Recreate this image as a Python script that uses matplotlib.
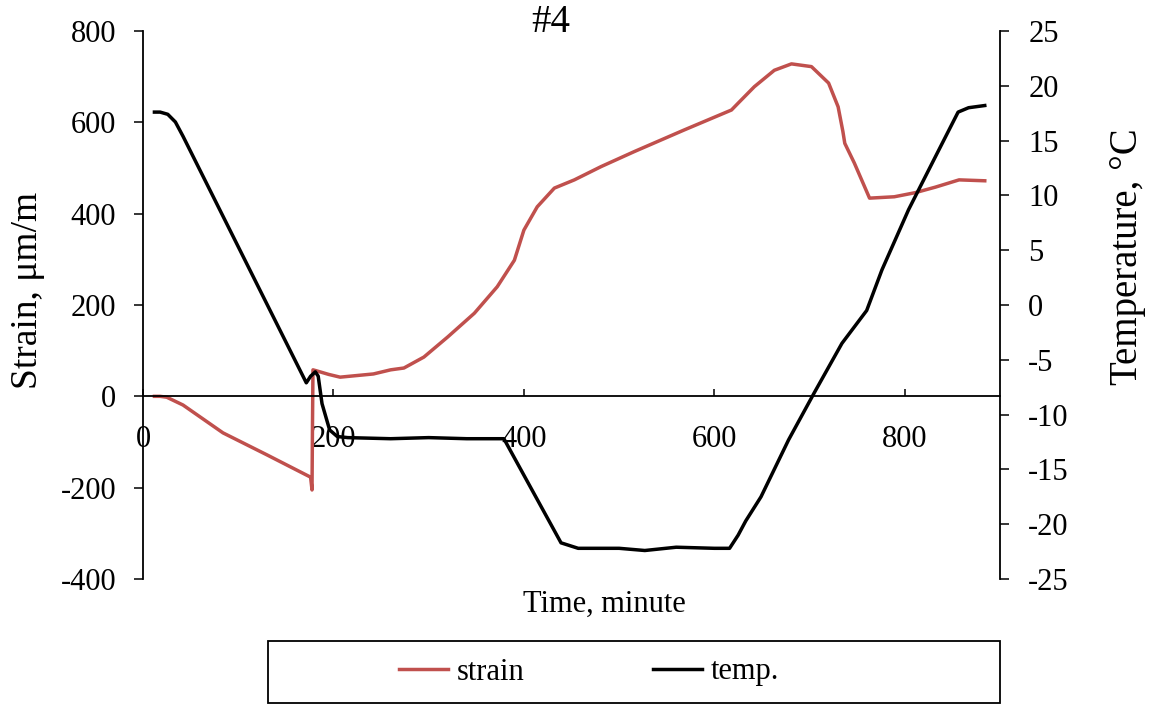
import matplotlib
matplotlib.use("Agg")
import matplotlib.pyplot as plt
from matplotlib.patches import Rectangle

plt.rcParams['font.family'] = ['Liberation Serif', 'DejaVu Serif']
plt.rcParams['font.size'] = 22
plt.rcParams['axes.unicode_minus'] = False

# Strain record (time in minutes, strain in μm/m)
strain_time = [12, 18, 25, 42, 84, 130, 176, 177.5, 178, 178.5, 182, 195, 207, 242, 260,
               274, 295, 320, 348, 372, 390, 400, 414, 432, 453, 481, 516, 568, 618,
               625, 642, 663, 681, 702, 720, 730, 735, 737, 747, 763, 789, 811, 832,
               857, 884]
strain_value = [0, 0, -2, -19, -80, -128, -177, -205, -60, 58, 56, 48, 42, 49, 58,
                62, 86, 130, 182, 240, 298, 364, 415, 456, 474, 503, 536, 583, 627,
                642, 678, 714, 728, 722, 686, 634, 580, 554, 511, 434, 437, 446, 458,
                474, 472]

# Temperature record (time in minutes, temperature in °C)
temp_time = [12, 18, 26, 34, 42, 171.5, 176, 181, 184, 188, 196, 204, 215,
             260, 300, 340, 379, 439, 457, 500, 527, 560, 600, 616, 625, 633, 649,
             678, 705, 734, 760, 776, 804, 832, 856, 867, 884]
temp_value = [17.6, 17.6, 17.4, 16.7, 15.4, -7.1, -6.5, -6.1, -6.5, -9.0, -11.4, -12.0,
              -12.1, -12.2, -12.1, -12.2, -12.2, -21.7, -22.2, -22.2, -22.4, -22.1,
              -22.2, -22.2, -21.0, -19.7, -17.5, -12.3, -8.0, -3.5, -0.5, 3.2, 8.7,
              13.5, 17.6, 18.0, 18.2]

x_ticks = [0, 200, 400, 600, 800]
strain_ticks = [-400, -200, 0, 200, 400, 600, 800]
temp_ticks = [-25, -20, -15, -10, -5, 0, 5, 10, 15, 20, 25]

STRAIN_COLOR = '#C0504D'

fig = plt.figure(figsize=(11.51, 7.05), dpi=100)
ax = fig.add_axes([143 / 1151, 1 - 579 / 705, (1000 - 143) / 1151, (579 - 31) / 705])
ax2 = ax.twinx()

l1, = ax.plot(strain_time, strain_value, color=STRAIN_COLOR, lw=2.5,
              solid_joinstyle='round', label='strain')
l2, = ax2.plot(temp_time, temp_value, color='black', lw=2.5,
               solid_joinstyle='round', label='temp.')

ax.set_xlim(0, 900)
ax.set_ylim(-400, 800)
ax2.set_ylim(-25, 25)
ax.set_xticks(x_ticks)
ax.set_yticks(strain_ticks)
ax2.set_yticks(temp_ticks)

# Time axis crosses at zero strain
ax.spines['bottom'].set_position(('data', 0))
ax.spines['top'].set_visible(False)
ax.spines['right'].set_visible(False)
for s in ['top', 'bottom', 'left']:
    ax2.spines[s].set_visible(False)
for sp in [ax.spines['bottom'], ax.spines['left'], ax2.spines['right']]:
    sp.set_linewidth(1.3)

ax.tick_params(axis='x', direction='in', length=5, width=1.1, pad=21)
ax.tick_params(axis='y', direction='out', length=6.8, width=1.1, pad=12.5)
ax2.tick_params(axis='y', direction='out', length=6.8, width=1.1, pad=13.5)

fig.text(604 / 1151, 1 - 604 / 705, 'Time, minute', ha='center', va='center')
fig.text(28 / 1151, 1 - 290 / 705, 'Strain, μm/m', rotation=90,
         ha='center', va='center', fontsize=27)
fig.text(1127 / 1151, 1 - 257 / 705, 'Temperature, °C', rotation=90,
         ha='center', va='center', fontsize=28)
fig.text(551 / 1151, 1 - 22 / 705, '#4', ha='center', va='center', fontsize=28)

# Legend box below the plot
fig.patches.append(Rectangle((268 / 1151, 2 / 705), (1000 - 268) / 1151, 62 / 705,
                             transform=fig.transFigure, fill=False,
                             edgecolor='black', lw=1.3))
fig.legend([l1, l2], ['strain', 'temp.'], loc='center', ncol=2, frameon=False,
           bbox_to_anchor=(589 / 1151, 1 - 672 / 705), handlelength=1.6,
           handletextpad=0.3, columnspacing=4.2)

fig.savefig('out.png', dpi=100)
